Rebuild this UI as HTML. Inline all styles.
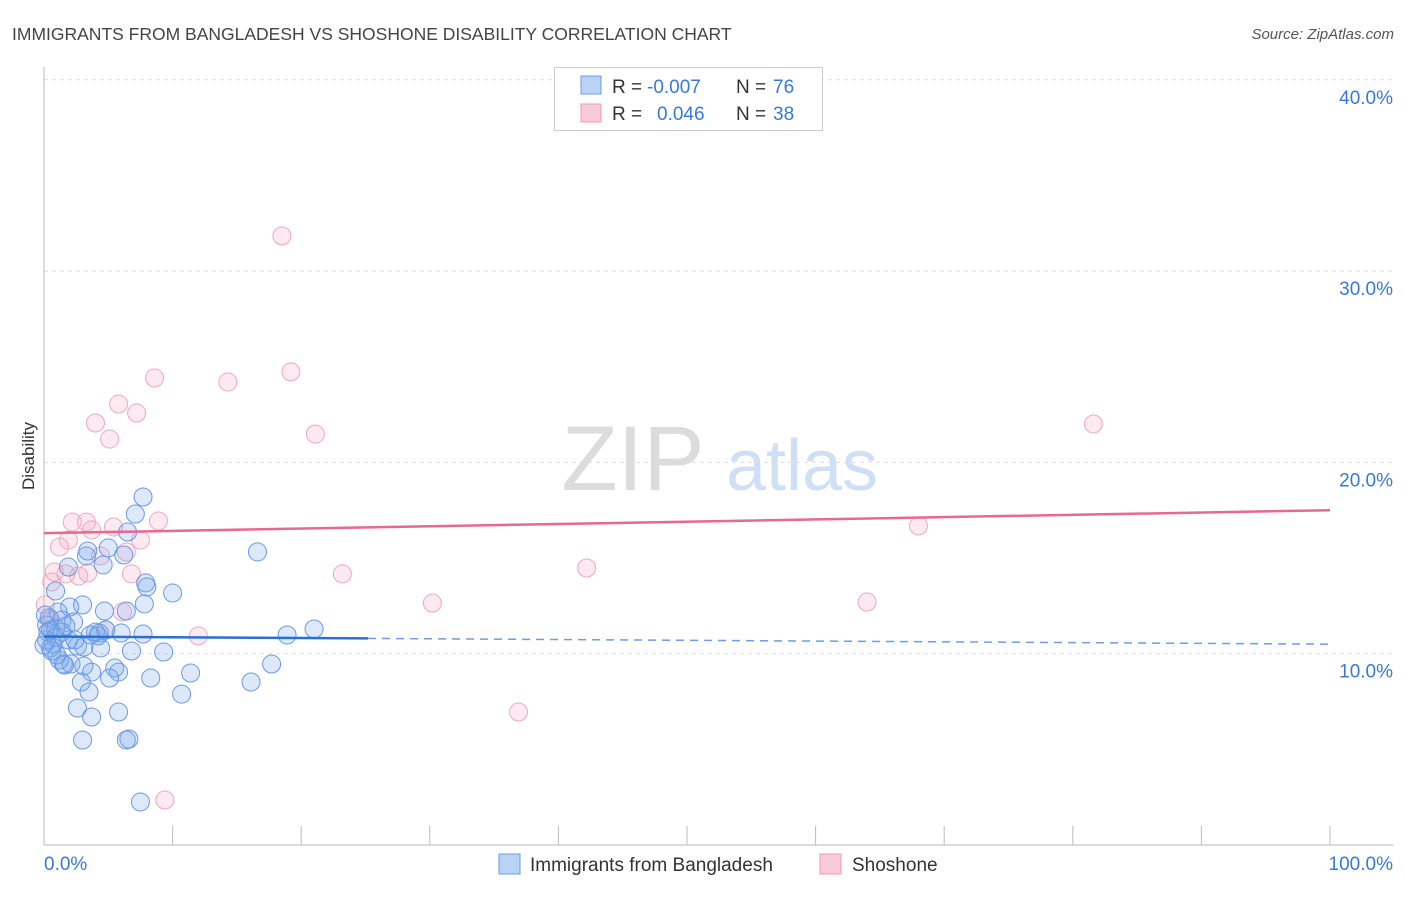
<!DOCTYPE html>
<html><head><meta charset="utf-8"><style>
body{margin:0;background:#fff;font-family:"Liberation Sans",sans-serif;}
svg text{font-family:"Liberation Sans",sans-serif;}
</style></head><body>
<svg id="chart" width="1406" height="892" xmlns="http://www.w3.org/2000/svg">
<text x="12" y="40" font-size="17.5" fill="#444">IMMIGRANTS FROM BANGLADESH VS SHOSHONE DISABILITY CORRELATION CHART</text>
<text x="1394" y="39" font-size="15" fill="#555" font-style="italic" text-anchor="end">Source: ZipAtlas.com</text>
<g>
<text x="633" y="490" font-size="92" fill="#dcdcdc" font-family="Liberation Serif,serif" text-anchor="middle">ZIP</text>
<text x="802" y="490" font-size="72" fill="#cfe0f5" text-anchor="middle">atlas</text>
</g>
<g id="grid"></g>
<g id="axes"></g>
<g id="marks"></g>
<text transform="translate(34,456) rotate(-90)" font-size="17" fill="#333" text-anchor="middle">Disability</text>
<g>
<rect x="554.5" y="67.5" width="268" height="63" fill="#fff" stroke="#ccc"/>
<rect x="581" y="76" width="20" height="18" fill="#b9d2f5" stroke="#6d9de3"/>
<text x="612" y="93" font-size="19" fill="#333">R =</text>
<text x="647" y="93" font-size="19" fill="#3a78d8">-0.007</text>
<text x="736" y="93" font-size="19" fill="#333">N =</text>
<text x="773" y="93" font-size="19" fill="#3a78d8">76</text>
<rect x="581" y="104" width="20" height="18" fill="#f9cbd9" stroke="#ee9ab5"/>
<text x="612" y="120" font-size="19" fill="#333">R =</text>
<text x="657" y="120" font-size="19" fill="#3a78d8">0.046</text>
<text x="736" y="120" font-size="19" fill="#333">N =</text>
<text x="773" y="120" font-size="19" fill="#3a78d8">38</text>
</g>
<g>
<rect x="499" y="854" width="21" height="20" fill="#b9d2f5" stroke="#6d9de3"/>
<text x="530" y="871" font-size="19" fill="#333">Immigrants from Bangladesh</text>
<rect x="820" y="854" width="21" height="20" fill="#f9cbd9" stroke="#ee9ab5"/>
<text x="852" y="871" font-size="19" fill="#333">Shoshone</text>
</g>
</svg>
<script>
const yTicks=[10,20,30,40];
const yTickLabels=["10.0%","20.0%","30.0%","40.0%"];
const xTickCount=10;
const xLabels=["0.0%","100.0%"];
const blueX=[7.7,7.1,6.5,5.0,3.4,3.3,6.2,4.6,1.9,7.9,8.0,16.6,10.0,0.9,7.8,3.0,2.0,4.7,6.4,1.1,0.4,1.4,2.3,0.9,4.0,4.3,6.0,3.6,7.7,18.9,21.0,0.2,1.9,0.7,2.6,3.1,4.4,6.8,9.3,0.6,1.2,1.5,2.1,1.6,17.7,3.1,5.5,3.7,5.8,11.4,5.1,8.3,2.9,16.1,3.5,10.7,2.6,5.8,3.7,3.0,6.4,6.6,7.5,0.2,0.3,0.0,0.9,1.4,1.7,0.5,0.1,0.5,1.0,2.4,4.2,4.8];
const blueY=[18.19,17.30,16.36,15.53,15.37,15.11,15.16,14.64,14.53,13.70,13.49,15.32,13.17,13.28,12.60,12.55,12.44,12.23,12.23,12.18,11.87,11.76,11.66,11.34,11.13,11.08,11.08,10.98,11.03,10.98,11.29,10.72,10.72,10.51,10.40,10.35,10.30,10.14,10.09,10.14,9.67,9.46,9.46,9.41,9.46,9.36,9.25,9.04,9.04,8.99,8.73,8.73,8.52,8.52,8.00,7.89,7.16,6.95,6.69,5.49,5.49,5.54,2.25,11.50,11.13,10.45,10.87,11.13,11.45,11.24,12.02,10.30,9.93,10.72,10.93,11.24];
const pinkX=[18.5,19.2,8.6,14.3,5.8,7.2,4.0,21.1,5.1,81.6,8.9,2.2,3.3,5.4,3.7,1.9,7.5,1.2,6.4,4.4,68.0,0.8,3.4,6.8,1.7,2.7,23.2,42.2,0.6,6.1,30.2,64.0,4.8,12.0,36.9,9.4,0.1,0.5];
const pinkY=[31.84,24.73,24.41,24.20,23.05,22.58,22.06,21.48,21.22,22.01,16.94,16.88,16.88,16.62,16.47,15.94,15.94,15.58,15.32,15.11,16.68,14.27,14.22,14.17,14.17,14.06,14.17,14.48,13.75,12.18,12.65,12.70,11.24,10.93,6.95,2.35,12.55,11.76];
const blueTrend=[10.9,10.5];
const blueSolidEnd=25.2;
const pinkTrend=[16.3,17.5];

const NS="http://www.w3.org/2000/svg";
const X0=44,X1=1330,Y0=845,PPY=19.13;
function sx(v){return X0+(X1-X0)*v/100;}
function sy(v){return Y0-v*PPY;}
function mk(tag,attrs,parent){const e=document.createElementNS(NS,tag);for(const k in attrs)e.setAttribute(k,attrs[k]);document.getElementById(parent).appendChild(e);return e;}

yTicks.forEach((t,i)=>{
  const g=mk('line',{x1:44,x2:1393,y1:sy(t),y2:sy(t),stroke:'#ddd','stroke-dasharray':'4,4'},'grid');
  
  
  const l=mk('text',{x:1393,y:sy(t)+24,'font-size':19,fill:'#3a78d8','text-anchor':'end'},'axes');
  l.textContent=yTickLabels[i];
  
  
});
let a=mk('line',{x1:44,x2:44,y1:67,y2:845,stroke:'#bbb'},'axes');


a=mk('line',{x1:44,x2:1393,y1:845,y2:845,stroke:'#bbb'},'axes');


for(let i=0;i<=xTickCount;i++){
  const t=mk('line',{x1:sx(i*10),x2:sx(i*10),y1:826,y2:845,stroke:'#bbb'},'axes');
  
  
}
let xl=mk('text',{x:44,y:870,'font-size':19,fill:'#3a78d8'},'axes');xl.textContent=xLabels[0];


xl=mk('text',{x:1393,y:870,'font-size':19,fill:'#3a78d8','text-anchor':'end'},'axes');xl.textContent=xLabels[1];



pinkX.forEach((x,i)=>{
  const c=mk('circle',{cx:sx(x),cy:sy(pinkY[i]),r:9,fill:'rgba(246,170,196,0.25)',stroke:'#f0a6bf','stroke-width':1},'marks');
  
  
});
blueX.forEach((x,i)=>{
  const c=mk('circle',{cx:sx(x),cy:sy(blueY[i]),r:9,fill:'rgba(120,168,235,0.25)',stroke:'#6a9ae3','stroke-width':1},'marks');
  
  
});
const slope=(blueTrend[1]-blueTrend[0])/100;
let tl=mk('line',{x1:sx(0),y1:sy(blueTrend[0]),x2:sx(blueSolidEnd),y2:sy(blueTrend[0]+slope*blueSolidEnd),stroke:'#2a6fd6','stroke-width':2.5},'marks');


tl=mk('line',{x1:sx(blueSolidEnd),y1:sy(blueTrend[0]+slope*blueSolidEnd),x2:sx(100),y2:sy(blueTrend[1]),stroke:'#6d9de3','stroke-width':1.5,'stroke-dasharray':'8,6'},'marks');


tl=mk('line',{x1:sx(0),y1:sy(pinkTrend[0]),x2:sx(100),y2:sy(pinkTrend[1]),stroke:'#e6698f','stroke-width':2.5},'marks');


</script>
</body></html>
